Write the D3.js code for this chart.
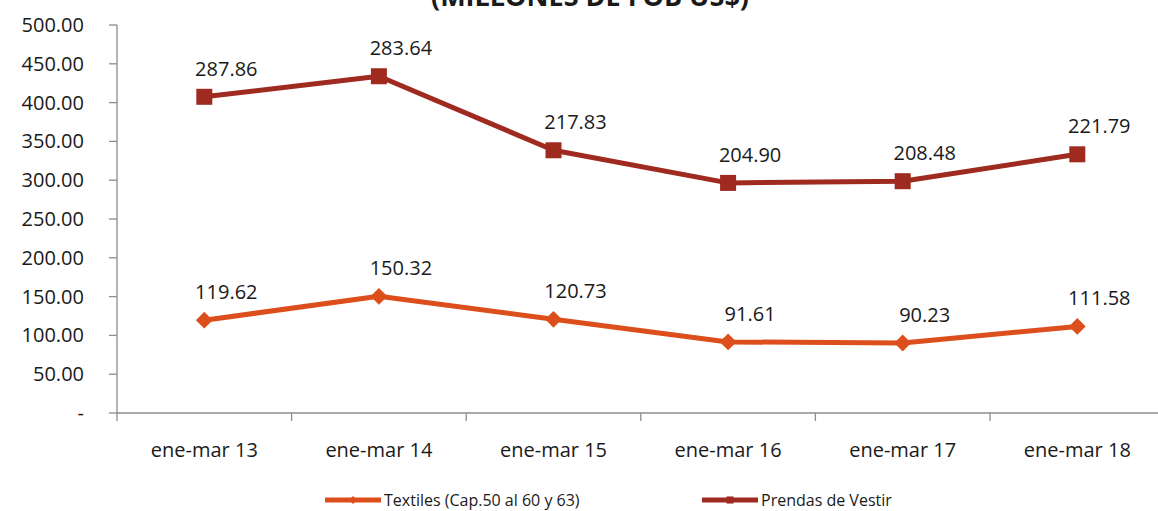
<!DOCTYPE html>
<html lang="es">
<head>
<meta charset="UTF-8">
<title>Exportaciones textiles</title>
<script src="https://cdn.jsdelivr.net/npm/d3@7"></script>
<style>
  body { margin: 0; background: #fff; }
  text { font-family: "Open Sans", "Liberation Sans", sans-serif; fill: #1a1a1a; }
</style>
</head>
<body>
<div id="main"></div>
<script>
// datos
var categories = ['ene-mar 13', 'ene-mar 14', 'ene-mar 15', 'ene-mar 16', 'ene-mar 17', 'ene-mar 18']
var textiles = [119.62, 150.32, 120.73, 91.61, 90.23, 111.58]
var prendas = [287.86, 283.64, 217.83, 204.90, 208.48, 221.79]
var yTicks = [0, 50, 100, 150, 200, 250, 300, 350, 400, 450, 500]
var seriesNames = ['Textiles (Cap.50 al 60 y 63)', 'Prendas de Vestir']

var width = 1158, height = 511
var plotLeft = 117, plotTop = 25, plotBottom = 413
var colTex = '#dc4f1c', colPre = '#9e2a20'

var svg = d3.select('#main').append('svg')
    .attr('width', width).attr('height', height)

// titulo (cortado arriba)
svg.append('text')
    .attr('x', 590).attr('y', 6)
    .attr('text-anchor', 'middle')
    .style('font-size', '27px').style('font-weight', 'bold')
    .text('(MILLONES DE FOB US$)')

var y = d3.scaleLinear().domain([0, 500]).range([plotBottom, plotTop])
var x = d3.scaleBand().domain(categories).range([plotLeft, plotLeft + 6 * 174.6])
var cx = function (c) { return x(c) + x.bandwidth() / 2 }

// eje y
var gy = svg.append('g')
gy.append('line').attr('x1', plotLeft).attr('x2', plotLeft).attr('y1', plotTop).attr('y2', plotBottom)
    .attr('stroke', '#8c8c8c').attr('stroke-width', 1.3)
gy.selectAll('.tk').data(yTicks).enter().append('line')
    .attr('x1', plotLeft - 8).attr('x2', plotLeft)
    .attr('y1', function (d) { return y(d) }).attr('y2', function (d) { return y(d) })
    .attr('stroke', '#8c8c8c').attr('stroke-width', 1.3)
gy.selectAll('text').data(yTicks).enter().append('text')
    .attr('x', 84).attr('y', function (d) { return y(d) })
    .attr('dy', '0.35em').attr('text-anchor', 'end')
    .style('font-size', '20px')
    .text(function (d) { return d === 0 ? '-' : d.toFixed(2) })

// eje x
var gx = svg.append('g')
gx.append('line').attr('x1', plotLeft).attr('x2', width).attr('y1', plotBottom).attr('y2', plotBottom)
    .attr('stroke', '#8c8c8c').attr('stroke-width', 1.3)
gx.selectAll('.tk').data(categories).enter().append('line')
    .attr('x1', function (d) { return x(d) }).attr('x2', function (d) { return x(d) })
    .attr('y1', plotBottom).attr('y2', plotBottom + 8)
    .attr('stroke', '#8c8c8c').attr('stroke-width', 1.3)
gx.selectAll('text').data(categories).enter().append('text')
    .attr('x', cx).attr('y', 450).attr('dy', '0.35em')
    .attr('text-anchor', 'middle')
    .style('font-size', '20px')
    .text(function (d) { return d })

// series (apiladas)
var texPts = categories.map(function (c, i) { return { c: c, v: textiles[i], s: textiles[i] } })
var prePts = categories.map(function (c, i) { return { c: c, v: prendas[i], s: textiles[i] + prendas[i] } })

var line = d3.line().x(function (d) { return cx(d.c) }).y(function (d) { return y(d.s) })

svg.append('path').attr('d', line(texPts))
    .attr('fill', 'none').attr('stroke', colTex).attr('stroke-width', 5).attr('stroke-linejoin', 'round')
svg.append('path').attr('d', line(prePts))
    .attr('fill', 'none').attr('stroke', colPre).attr('stroke-width', 5).attr('stroke-linejoin', 'round')

var diamond = d3.symbol().type(d3.symbolDiamond2).size(180)
svg.selectAll('.dm').data(texPts).enter().append('path')
    .attr('d', diamond)
    .attr('transform', function (d) { return 'translate(' + cx(d.c) + ',' + y(d.s) + ')' })
    .attr('fill', colTex)
svg.selectAll('.sq').data(prePts).enter().append('rect')
    .attr('x', function (d) { return cx(d.c) - 8 }).attr('y', function (d) { return y(d.s) - 8 })
    .attr('width', 16).attr('height', 16)
    .attr('fill', colPre)

// etiquetas
svg.selectAll('.lt').data(texPts.concat(prePts)).enter().append('text')
    .attr('x', function (d) { return cx(d.c) + 22 })
    .attr('y', function (d) { return y(d.s) - 28 })
    .attr('dy', '0.35em').attr('text-anchor', 'middle')
    .style('font-size', '20px')
    .text(function (d) { return d.v.toFixed(2) })

// leyenda
var leg = [{ x: 325, col: colTex, name: seriesNames[0], mk: 'd' }, { x: 702, col: colPre, name: seriesNames[1], mk: 's' }]
var lg = svg.selectAll('.leg').data(leg).enter().append('g')
    .attr('transform', function (d) { return 'translate(' + d.x + ',500)' })
lg.append('line').attr('x1', 0).attr('x2', 56).attr('y1', 0).attr('y2', 0)
    .attr('stroke', function (d) { return d.col }).attr('stroke-width', 5)
lg.append('path')
    .attr('d', function (d) {
        return d.mk === 'd' ? d3.symbol().type(d3.symbolDiamond2).size(40)() : d3.symbol().type(d3.symbolSquare).size(50)()
    })
    .attr('transform', 'translate(28,0)')
    .attr('fill', function (d) { return d.col })
lg.append('text').attr('x', 59).attr('y', 0).attr('dy', '0.35em')
    .style('font-size', '16px')
    .text(function (d) { return d.name })
</script>
</body>
</html>
